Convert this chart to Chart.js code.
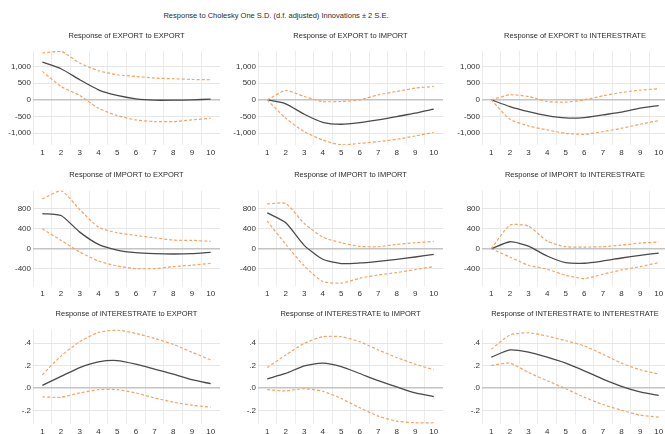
<!DOCTYPE html>
<html>
<head>
<meta charset="utf-8">
<script src="https://cdn.jsdelivr.net/npm/chart.js@4.4.1/dist/chart.umd.min.js"></script>
<style>
  html, body { margin: 0; padding: 0; background: #fff; overflow: hidden; width: 665px; height: 434px; position: relative; }
  #main { position: absolute; top: 11px; left: 0; width: 552px; text-align: center; font: 7.5px 'Liberation Sans', Arial, sans-serif; color: #2b2b2b; }
  canvas { position: absolute; }
</style>
</head>
<body>
<div id="main">Response to Cholesky One S.D. (d.f. adjusted) Innovations ± 2 S.E.</div>
<script>
const periods = ['1', '2', '3', '4', '5', '6', '7', '8', '9', '10']

// response of EXPORT
const respExportExport = [1130, 930, 600, 300, 130, 30, -10, -10, 0, 20]
const upExportExport = [1400, 1450, 1100, 870, 750, 700, 650, 630, 610, 600]
const loExportExport = [850, 400, 130, -250, -470, -600, -650, -650, -600, -550]
const respExportImport = [0, -120, -430, -670, -730, -680, -600, -500, -400, -280]
const upExportImport = [0, 280, 100, -50, -50, 0, 150, 250, 350, 400]
const loExportImport = [0, -550, -950, -1200, -1350, -1300, -1250, -1180, -1080, -970]
const respExportRate = [0, -200, -350, -470, -540, -530, -450, -370, -250, -170]
const upExportRate = [0, 150, 100, -50, -70, 0, 120, 220, 290, 330]
const loExportRate = [0, -580, -780, -900, -1000, -1030, -950, -850, -730, -620]

// response of IMPORT
const respImportExport = [707, 667, 333, 87, -27, -80, -100, -107, -100, -73]
const upImportExport = [1000, 1167, 787, 433, 320, 267, 220, 173, 167, 147]
const loImportExport = [400, 167, -67, -247, -347, -400, -400, -360, -333, -293]
const respImportImport = [720, 520, 67, -213, -300, -287, -253, -213, -167, -113]
const upImportImport = [900, 907, 507, 233, 120, 47, 40, 87, 120, 147]
const loImportImport = [553, 87, -347, -660, -693, -593, -527, -480, -420, -360]
const respImportRate = [0, 140, 53, -147, -280, -293, -247, -187, -133, -87]
const upImportRate = [0, 473, 453, 153, 40, 33, 40, 73, 113, 133]
const loImportRate = [0, -167, -333, -413, -533, -600, -513, -427, -360, -280]

// response of INTERESTRATE
const respRateExport = [0.024, 0.103, 0.182, 0.232, 0.244, 0.212, 0.168, 0.124, 0.074, 0.038]
const upRateExport = [0.118, 0.285, 0.412, 0.494, 0.515, 0.485, 0.441, 0.388, 0.318, 0.25]
const loRateExport = [-0.079, -0.082, -0.044, -0.015, -0.015, -0.044, -0.088, -0.126, -0.153, -0.171]
const respRateImport = [0.082, 0.129, 0.197, 0.221, 0.191, 0.129, 0.065, 0.009, -0.044, -0.076]
const upRateImport = [0.182, 0.294, 0.397, 0.456, 0.456, 0.412, 0.338, 0.271, 0.212, 0.162]
const loRateImport = [-0.015, -0.026, -0.006, -0.029, -0.094, -0.176, -0.25, -0.294, -0.309, -0.309]
const respRateRate = [0.274, 0.338, 0.318, 0.274, 0.221, 0.153, 0.079, 0.015, -0.035, -0.065]
const upRateRate = [0.344, 0.471, 0.491, 0.462, 0.421, 0.374, 0.3, 0.221, 0.162, 0.124]
const loRateRate = [0.2, 0.221, 0.138, 0.065, -0.006, -0.082, -0.147, -0.197, -0.241, -0.259]

const ticksLevel = [-1000, -500, 0, 500, 1000]
const ticksImport = [-400, 0, 400, 800]
const ticksRate = [-0.2, 0, 0.2, 0.4]

Chart.defaults.font.family = "'Liberation Sans', Arial, sans-serif"
Chart.defaults.color = '#333'

const rows = [
  { top: 31, height: 128, titlePad: 11, min: -1350, max: 1460, ticks: ticksLevel, fmt: v => v.toLocaleString('en-US') },
  { top: 170, height: 130, titlePad: 11.5, min: -750, max: 1170, ticks: ticksImport, fmt: v => String(v) },
  { top: 309, height: 129, titlePad: 11.5, min: -0.32, max: 0.52, ticks: ticksRate, fmt: v => v.toFixed(1).replace('0.', '.') }
]
const cols = [{ left: 0, width: 220 }, { left: 225, width: 218 }, { left: 449, width: 219 }]

const panels = [
  ['Response of EXPORT to EXPORT', respExportExport, upExportExport, loExportExport],
  ['Response of EXPORT to IMPORT', respExportImport, upExportImport, loExportImport],
  ['Response of EXPORT to INTERESTRATE', respExportRate, upExportRate, loExportRate],
  ['Response of IMPORT to EXPORT', respImportExport, upImportExport, loImportExport],
  ['Response of IMPORT to IMPORT', respImportImport, upImportImport, loImportImport],
  ['Response of IMPORT to INTERESTRATE', respImportRate, upImportRate, loImportRate],
  ['Response of INTERESTRATE to EXPORT', respRateExport, upRateExport, loRateExport],
  ['Response of INTERESTRATE to IMPORT', respRateImport, upRateImport, loRateImport],
  ['Response of INTERESTRATE to INTERESTRATE', respRateRate, upRateRate, loRateRate]
]

const band = data => ({ data, borderColor: '#f5a462', borderWidth: 1.2, borderDash: [3, 2], pointRadius: 0, tension: 0.2, fill: false })

panels.forEach(([title, resp, up, lo], i) => {
  const row = rows[Math.floor(i / 3)]
  const col = cols[i % 3]
  const canvas = document.createElement('canvas')
  canvas.width = col.width
  canvas.height = row.height
  canvas.style.left = col.left + 'px'
  canvas.style.top = row.top + 'px'
  document.body.appendChild(canvas)

  new Chart(canvas, {
    type: 'line',
    data: {
      labels: periods,
      datasets: [
        band(up),
        band(lo),
        { data: resp, borderColor: '#4a4a4a', borderWidth: 1.3, pointRadius: 0, tension: 0.2, fill: false }
      ]
    },
    options: {
      responsive: false,
      animation: false,
      layout: { padding: 0 },
      plugins: {
        legend: { display: false },
        tooltip: { enabled: false },
        title: { display: true, text: title, fullSize: false, color: '#2b2b2b', font: { size: 7.5, weight: 'normal' }, padding: { top: 0, bottom: row.titlePad } }
      },
      scales: {
        x: {
          offset: true,
          grid: { offset: true, color: '#ececec', drawTicks: false },
          border: { display: false },
          ticks: { font: { size: 8 }, padding: 3, maxRotation: 0 },
          afterFit: s => { s.height = 14 }
        },
        y: {
          min: row.min,
          max: row.max,
          grid: {
            drawTicks: false,
            color: c => c.tick && c.tick.value === 0 ? '#c4c4c4' : '#e6e6e6',
            lineWidth: c => c.tick && c.tick.value === 0 ? 1.5 : 1
          },
          border: { display: false },
          afterBuildTicks: s => { s.ticks = row.ticks.map(v => ({ value: v })) },
          ticks: { font: { size: 8 }, padding: 2, callback: v => row.fmt(v) },
          afterFit: s => { s.width = 33 }
        }
      }
    }
  })
})
</script>
</body>
</html>
